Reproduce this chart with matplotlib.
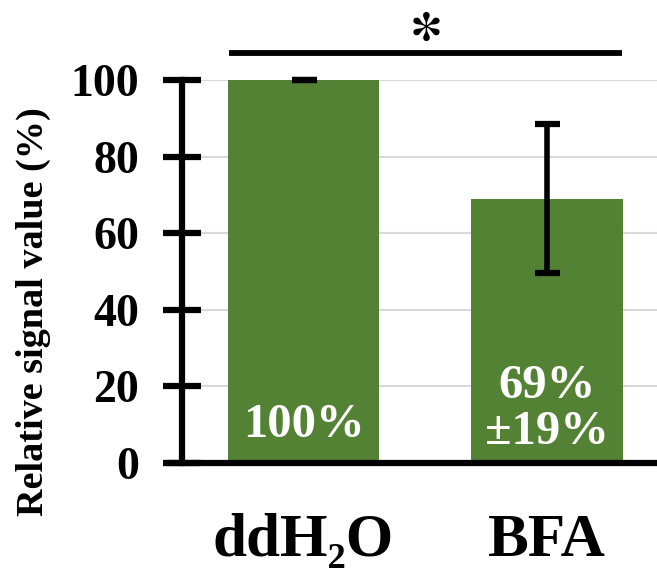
import matplotlib.pyplot as plt

plt.rcParams['font.family'] = ['Liberation Serif', 'DejaVu Serif']
plt.rcParams['font.weight'] = 'bold'
plt.rcParams['mathtext.fontset'] = 'stix'

# data
groups = ['ddH\u2082O', 'BFA']
values = [100, 69]
errors = [0, 19.5]
bar_texts = ['100%', '69%\n±19%']
yticks = [0, 20, 40, 60, 80, 100]

green = '#548235'

fig = plt.figure(figsize=(6.57, 5.68), dpi=100)
ax = fig.add_axes([0.277, 0.185, 0.74, 0.674])

x = list(range(len(groups)))
ax.bar(x, values, width=0.625, color=green, zorder=2)
ax.errorbar(x, values, yerr=errors, fmt='none', ecolor='black', elinewidth=4,
            capsize=9, capthick=4.5, zorder=3, clip_on=False)

for xi, txt in zip(x, bar_texts):
    ypos = 10 if '\n' not in txt else 14
    ax.text(xi, ypos, txt, ha='center', va='center', color='white',
            fontsize=35, fontweight='bold', linespacing=1.05, zorder=4)

# significance marker
ax.plot([-0.305, 1.31], [107, 107], color='black', lw=4.2, clip_on=False,
        solid_capstyle='butt')
ax.plot([0.502], [114], marker=r'$\ast$', markersize=21, markeredgewidth=0,
        color='black', linestyle='none', clip_on=False)

ax.set_xlim(-0.5, 1.5)
ax.set_ylim(0, 100)
ax.set_yticks(yticks)
ax.set_xticks(x)
ax.set_xticklabels(groups, fontsize=44, fontweight='bold')
ax.tick_params(axis='x', length=0, pad=36)
ax.tick_params(axis='y', direction='inout', length=28, width=4.5,
               labelsize=33, pad=17)
for lab in ax.get_yticklabels():
    lab.set_fontweight('bold')

ax.yaxis.grid(True, color='#d9d9d9', lw=1.5, zorder=0)
ax.set_axisbelow(True)

for s in ['top', 'right']:
    ax.spines[s].set_visible(False)
ax.spines['left'].set_linewidth(4.5)
ax.spines['bottom'].set_linewidth(4.5)
ax.spines['bottom'].set_bounds(-0.555, 1.5)

ax.set_ylabel('Relative signal value (%)', fontsize=27.5, fontweight='bold',
              va='center')
ax.yaxis.set_label_coords(-0.305, 0.394)

fig.savefig('out.png', dpi=100)
